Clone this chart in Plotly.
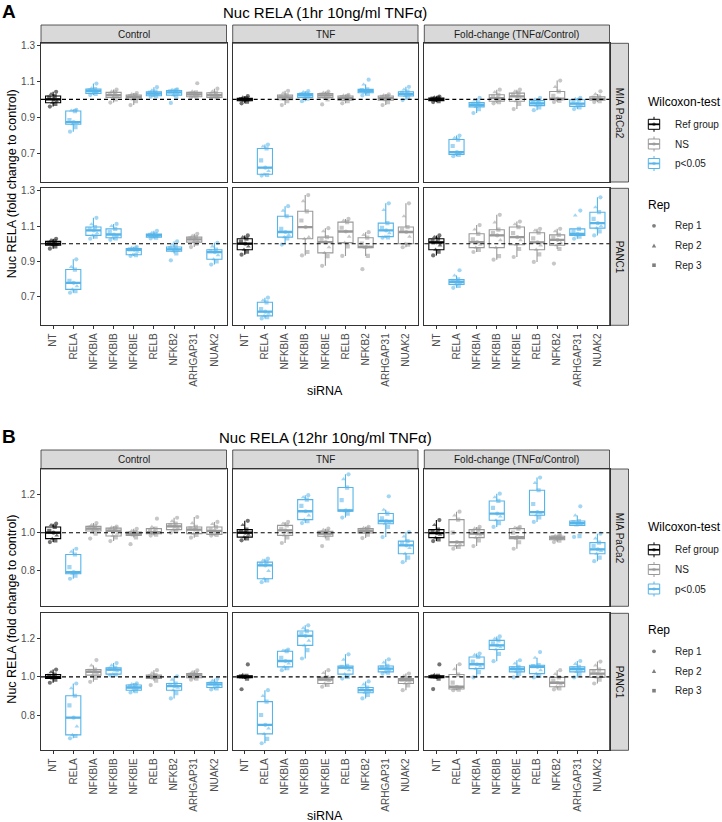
import numpy as np
import plotly.graph_objects as go

W, H = 722, 822

SIRNA = ["NT", "RELA", "NFKBIA", "NFKBIB", "NFKBIE", "RELB", "NFKB2", "ARHGAP31", "NUAK2"]
CONDITIONS = ["Control", "TNF", "Fold-change (TNFα/Control)"]
CELL_LINES = ["MIA PaCa2", "PANC1"]
TITLES = ["Nuc RELA (1hr 10ng/ml TNFα)", "Nuc RELA (12hr 10ng/ml TNFα)"]
LETTERS = ["A", "B"]
REPS = ["Rep 1", "Rep 2", "Rep 3"]

# significance per siRNA: R = Ref group, N = NS, S = p<0.05
# --- A: 1hr, MIA PaCa2 ---
A_MIA_CTRL = [
    [0.96, 0.975, 0.981, 0.99, 1.0, 1.01, 1.019, 1.03, 1.042],
    [0.82, 0.845, 0.861, 0.868, 0.873, 0.885, 0.935, 0.938, 0.942],
    [1.024, 1.03, 1.033, 1.04, 1.046, 1.05, 1.057, 1.062, 1.088],
    [0.982, 1.0, 1.011, 1.018, 1.024, 1.03, 1.039, 1.045, 1.055],
    [0.968, 0.99, 1.0, 1.008, 1.013, 1.018, 1.024, 1.03, 1.035],
    [1.015, 1.018, 1.02, 1.028, 1.033, 1.038, 1.043, 1.05, 1.068],
    [0.98, 1.015, 1.024, 1.032, 1.039, 1.045, 1.05, 1.053, 1.056],
    [1.01, 1.012, 1.015, 1.022, 1.028, 1.032, 1.039, 1.045, 1.09],
    [1.008, 1.01, 1.011, 1.018, 1.024, 1.03, 1.037, 1.045, 1.06],
]
A_MIA_CTRL_SIG = "RSSNNSSNN"
A_MIA_TNF = [
    [0.978, 0.988, 0.992, 0.996, 1.0, 1.002, 1.006, 1.012, 1.018],
    [0.575, 0.578, 0.582, 0.6, 0.619, 0.66, 0.726, 0.738, 0.748],
    [0.968, 0.99, 0.998, 1.005, 1.011, 1.016, 1.024, 1.035, 1.048],
    [0.99, 1.004, 1.011, 1.018, 1.024, 1.028, 1.033, 1.04, 1.046],
    [0.972, 1.0, 1.01, 1.017, 1.022, 1.027, 1.032, 1.038, 1.043],
    [0.978, 0.99, 0.996, 1.003, 1.008, 1.013, 1.019, 1.022, 1.025],
    [1.022, 1.03, 1.037, 1.043, 1.048, 1.052, 1.056, 1.083, 1.11],
    [0.968, 0.985, 0.996, 1.002, 1.009, 1.014, 1.019, 1.024, 1.028],
    [0.996, 1.012, 1.019, 1.025, 1.03, 1.036, 1.043, 1.055, 1.07],
]
A_MIA_TNF_SIG = "RSNSNNSNS"
A_MIA_FC = [
    [0.985, 0.99, 0.993, 0.998, 1.0, 1.004, 1.008, 1.012, 1.016],
    [0.683, 0.69, 0.693, 0.7, 0.706, 0.74, 0.776, 0.785, 0.798],
    [0.924, 0.945, 0.958, 0.965, 0.97, 0.975, 0.983, 0.995, 1.008],
    [0.978, 0.985, 0.99, 1.0, 1.007, 1.015, 1.026, 1.04, 1.054],
    [0.946, 0.975, 0.99, 1.005, 1.017, 1.025, 1.035, 1.045, 1.054],
    [0.94, 0.955, 0.965, 0.972, 0.978, 0.985, 0.993, 1.0, 1.008],
    [0.985, 0.992, 0.998, 1.0, 1.004, 1.02, 1.044, 1.07, 1.105],
    [0.946, 0.955, 0.961, 0.97, 0.976, 0.985, 0.998, 1.003, 1.008],
    [0.985, 0.99, 0.995, 1.0, 1.003, 1.01, 1.015, 1.03, 1.045],
]
A_MIA_FC_SIG = "RSSNNSNSN"

# --- A: 1hr, PANC1 ---
A_PANC_CTRL = [
    [0.972, 0.985, 0.991, 0.995, 1.0, 1.005, 1.013, 1.02, 1.028],
    [0.723, 0.732, 0.742, 0.76, 0.779, 0.79, 0.854, 0.869, 0.912],
    [1.028, 1.04, 1.047, 1.06, 1.075, 1.082, 1.094, 1.11, 1.146],
    [1.022, 1.03, 1.034, 1.045, 1.052, 1.065, 1.084, 1.1, 1.112],
    [0.931, 0.935, 0.938, 0.955, 0.965, 0.968, 0.972, 0.976, 0.981],
    [1.03, 1.034, 1.037, 1.043, 1.047, 1.05, 1.054, 1.062, 1.073],
    [0.906, 0.945, 0.957, 0.962, 0.968, 0.975, 0.981, 0.995, 1.013],
    [0.981, 1.0, 1.009, 1.015, 1.024, 1.03, 1.037, 1.045, 1.056],
    [0.882, 0.9, 0.912, 0.935, 0.952, 0.958, 0.966, 0.985, 1.005],
]
A_PANC_CTRL_SIG = "RSSSSSSNS"
A_PANC_TNF = [
    [0.938, 0.955, 0.966, 0.985, 1.0, 1.012, 1.028, 1.038, 1.047],
    [0.578, 0.585, 0.592, 0.605, 0.616, 0.63, 0.669, 0.68, 0.695],
    [0.995, 1.03, 1.037, 1.05, 1.066, 1.084, 1.155, 1.187, 1.212],
    [0.934, 0.953, 1.028, 1.037, 1.094, 1.131, 1.183, 1.24, 1.275],
    [0.875, 0.93, 0.948, 0.98, 1.009, 1.02, 1.037, 1.07, 1.088],
    [0.931, 0.985, 1.006, 1.04, 1.069, 1.09, 1.122, 1.13, 1.14],
    [0.856, 0.931, 0.978, 0.98, 0.982, 1.0, 1.034, 1.05, 1.065],
    [1.034, 1.036, 1.04, 1.06, 1.075, 1.09, 1.116, 1.19, 1.228],
    [0.98, 0.995, 1.0, 1.04, 1.066, 1.08, 1.094, 1.155, 1.228],
]
A_PANC_TNF_SIG = "RSSNNNNSN"
A_PANC_FC = [
    [0.934, 0.955, 0.966, 0.99, 1.008, 1.015, 1.028, 1.038, 1.047],
    [0.751, 0.762, 0.77, 0.778, 0.785, 0.79, 0.798, 0.82, 0.85],
    [0.953, 0.965, 0.978, 0.995, 1.009, 1.025, 1.056, 1.08, 1.105],
    [0.91, 0.93, 0.978, 1.02, 1.047, 1.06, 1.079, 1.12, 1.163],
    [0.925, 0.97, 0.994, 1.02, 1.037, 1.06, 1.094, 1.11, 1.125],
    [0.897, 0.94, 0.966, 0.99, 1.008, 1.03, 1.062, 1.075, 1.084],
    [0.888, 0.97, 0.991, 1.005, 1.022, 1.035, 1.05, 1.07, 1.084],
    [1.028, 1.04, 1.047, 1.052, 1.056, 1.07, 1.084, 1.16, 1.187],
    [1.047, 1.07, 1.088, 1.1, 1.116, 1.14, 1.178, 1.206, 1.262],
]
A_PANC_FC_SIG = "RSNNNNNSS"

# --- B: 12hr, MIA PaCa2 ---
B_MIA_CTRL = [
    [0.951, 0.96, 0.969, 0.985, 1.0, 1.01, 1.03, 1.04, 1.047],
    [0.759, 0.775, 0.785, 0.79, 0.794, 0.82, 0.886, 0.9, 0.916],
    [0.969, 0.995, 1.009, 1.015, 1.021, 1.027, 1.033, 1.04, 1.05],
    [0.956, 0.975, 0.983, 0.995, 1.01, 1.015, 1.024, 1.028, 1.032],
    [0.94, 0.975, 0.986, 0.99, 0.995, 0.998, 1.003, 1.01, 1.02],
    [0.985, 0.99, 0.995, 1.0, 1.003, 1.01, 1.021, 1.03, 1.073],
    [1.0, 1.01, 1.016, 1.025, 1.033, 1.04, 1.047, 1.06, 1.078],
    [0.974, 0.988, 0.995, 1.005, 1.016, 1.022, 1.03, 1.05, 1.082],
    [0.985, 0.988, 0.991, 1.0, 1.009, 1.018, 1.03, 1.045, 1.056],
]
B_MIA_CTRL_SIG = "RSNNNNNNN"
B_MIA_TNF = [
    [0.96, 0.97, 0.977, 0.99, 1.0, 1.008, 1.016, 1.04, 1.062],
    [0.741, 0.75, 0.759, 0.8, 0.829, 0.835, 0.846, 0.855, 0.864],
    [0.946, 0.975, 0.986, 1.0, 1.012, 1.02, 1.038, 1.048, 1.056],
    [1.05, 1.06, 1.068, 1.09, 1.112, 1.14, 1.173, 1.185, 1.196],
    [0.93, 0.97, 0.981, 0.99, 0.995, 1.0, 1.007, 1.015, 1.021],
    [1.079, 1.1, 1.112, 1.115, 1.117, 1.17, 1.236, 1.28, 1.305],
    [0.972, 0.99, 0.998, 1.005, 1.01, 1.015, 1.021, 1.025, 1.03],
    [0.977, 1.03, 1.047, 1.055, 1.061, 1.075, 1.1, 1.12, 1.19],
    [0.846, 0.87, 0.89, 0.92, 0.934, 0.945, 0.956, 0.98, 1.003],
]
B_MIA_TNF_SIG = "RSNSNSNSS"
B_MIA_FC = [
    [0.956, 0.965, 0.974, 0.99, 0.998, 1.005, 1.016, 1.04, 1.066],
    [0.916, 0.925, 0.932, 0.94, 0.951, 1.0, 1.068, 1.09, 1.11],
    [0.93, 0.96, 0.974, 0.985, 0.995, 1.005, 1.016, 1.022, 1.03],
    [1.03, 1.05, 1.065, 1.085, 1.1, 1.13, 1.166, 1.185, 1.204],
    [0.916, 0.95, 0.969, 0.973, 0.977, 1.0, 1.021, 1.026, 1.03],
    [1.056, 1.08, 1.091, 1.1, 1.108, 1.15, 1.222, 1.26, 1.288],
    [0.951, 0.958, 0.963, 0.968, 0.972, 0.976, 0.981, 0.984, 0.986],
    [0.978, 0.982, 1.038, 1.045, 1.05, 1.055, 1.061, 1.09, 1.138],
    [0.851, 0.87, 0.89, 0.905, 0.913, 0.93, 0.948, 0.97, 0.995],
]
B_MIA_FC_SIG = "RNNSNSNSS"

# --- B: 12hr, PANC1 ---
B_PANC_CTRL = [
    [0.969, 0.985, 0.991, 0.996, 1.0, 1.005, 1.012, 1.025, 1.038],
    [0.678, 0.69, 0.696, 0.74, 0.786, 0.85, 0.901, 0.94, 0.965],
    [0.974, 0.995, 1.009, 1.018, 1.026, 1.032, 1.038, 1.06, 1.088],
    [1.008, 1.011, 1.014, 1.03, 1.038, 1.042, 1.047, 1.06, 1.072],
    [0.918, 0.925, 0.93, 0.938, 0.944, 0.95, 0.957, 0.962, 0.966],
    [0.957, 0.98, 0.991, 0.995, 1.0, 1.003, 1.009, 1.02, 1.035],
    [0.887, 0.915, 0.93, 0.943, 0.951, 0.958, 0.965, 0.985, 1.003],
    [0.985, 0.99, 0.995, 1.002, 1.008, 1.012, 1.017, 1.025, 1.034],
    [0.934, 0.94, 0.944, 0.952, 0.96, 0.965, 0.97, 0.98, 0.99],
]
B_PANC_CTRL_SIG = "RSNSSNSNS"
B_PANC_TNF = [
    [0.935, 0.99, 0.995, 0.998, 1.0, 1.002, 1.005, 1.01, 1.065],
    [0.652, 0.675, 0.701, 0.73, 0.748, 0.8, 0.87, 0.9, 0.93],
    [1.035, 1.045, 1.052, 1.07, 1.083, 1.1, 1.134, 1.138, 1.143],
    [1.096, 1.14, 1.165, 1.19, 1.215, 1.225, 1.24, 1.255, 1.27],
    [0.948, 0.958, 0.965, 0.978, 0.986, 0.99, 0.997, 1.02, 1.035],
    [0.991, 1.0, 1.014, 1.035, 1.048, 1.052, 1.057, 1.09, 1.118],
    [0.887, 0.905, 0.917, 0.925, 0.93, 0.937, 0.944, 0.96, 0.976],
    [1.017, 1.022, 1.026, 1.036, 1.043, 1.05, 1.057, 1.075, 1.092],
    [0.93, 0.955, 0.965, 0.975, 0.983, 0.987, 0.991, 1.005, 1.017],
]
B_PANC_TNF_SIG = "RSSSNSSSN"
B_PANC_FC = [
    [0.936, 0.99, 0.995, 0.998, 1.0, 1.002, 1.005, 1.01, 1.065],
    [0.93, 0.933, 0.936, 0.942, 0.948, 0.97, 1.012, 1.04, 1.066],
    [0.997, 1.025, 1.043, 1.055, 1.066, 1.08, 1.104, 1.115, 1.122],
    [1.082, 1.12, 1.143, 1.155, 1.165, 1.175, 1.191, 1.2, 1.212],
    [0.997, 1.015, 1.026, 1.033, 1.04, 1.045, 1.052, 1.07, 1.087],
    [0.997, 1.005, 1.017, 1.035, 1.052, 1.056, 1.061, 1.1, 1.13],
    [0.934, 0.94, 0.948, 0.96, 0.969, 0.98, 0.997, 1.015, 1.035],
    [0.997, 1.015, 1.026, 1.033, 1.04, 1.045, 1.052, 1.068, 1.083],
    [0.965, 0.985, 0.997, 1.008, 1.017, 1.025, 1.038, 1.06, 1.08],
]
B_PANC_FC_SIG = "RNSSSSNSN"

PANELS = [
    [[A_MIA_CTRL, A_MIA_TNF, A_MIA_FC], [A_PANC_CTRL, A_PANC_TNF, A_PANC_FC]],
    [[B_MIA_CTRL, B_MIA_TNF, B_MIA_FC], [B_PANC_CTRL, B_PANC_TNF, B_PANC_FC]],
]
SIGS = [
    [[A_MIA_CTRL_SIG, A_MIA_TNF_SIG, A_MIA_FC_SIG], [A_PANC_CTRL_SIG, A_PANC_TNF_SIG, A_PANC_FC_SIG]],
    [[B_MIA_CTRL_SIG, B_MIA_TNF_SIG, B_MIA_FC_SIG], [B_PANC_CTRL_SIG, B_PANC_TNF_SIG, B_PANC_FC_SIG]],
]
Y_TICKS = [[0.7, 0.9, 1.1, 1.3], [0.8, 1.0, 1.2]]

# styling / geometry (pixels of the 722x822 page)
FONT = "Liberation Sans, Arial, sans-serif"
GROUPS = {
    "R": ("Ref group", "#000000", "rgba(0,0,0,0.55)"),
    "N": ("NS", "#999999", "rgba(153,153,153,0.55)"),
    "S": ("p<0.05", "#56B4E9", "rgba(86,180,233,0.55)"),
}
REP_SYMBOLS = ["circle", "triangle-up", "square"]
REP_OF_POINT = [0, 2, 1, 1, 0, 2, 2, 1, 0]
JITTER = [-0.16, 0.11, -0.04, 0.18, 0.02, -0.19, 0.08, -0.1, 0.15]
COL_X = [(41.0, 226.5), (232.7, 418.0), (424.3, 609.5)]
ROW_Y = [[(43.3, 182.0), (188.3, 325.3)], [(469.0, 606.3), (613.3, 750.3)]]
STRIP_TOP = [25.0, 450.0]
Y_RANGE = [(0.539, 1.313), (0.615, 1.333)]
LEG_SHIFT = [0.0, 425.5]


def fx(x):
    return x / W


def fy(y):
    return 1 - y / H


def box_stats(v):
    v = np.asarray(v)
    q1, med, q3 = np.percentile(v, [25, 50, 75])
    iqr = q3 - q1
    lo = v[v >= q1 - 1.5 * iqr].min()
    hi = v[v <= q3 + 1.5 * iqr].max()
    return q1, med, q3, lo, hi


def pline(x0, y0, x1, y1, color, width):
    return dict(type="line", xref="paper", yref="paper", x0=fx(x0), y0=fy(y0),
                x1=fx(x1), y1=fy(y1), line=dict(color=color, width=width))


def label(text, x, y, size, **kw):
    d = dict(text=text, x=fx(x), y=fy(y), xref="paper", yref="paper",
             xanchor="center", yanchor="middle",
             showarrow=False, font=dict(size=size, color=kw.pop("color", "black")))
    d.update(kw)
    return d


fig = go.Figure()
layout = {}
shapes = []
annotations = []

k = 0
for p in range(2):
    for r in range(2):
        for c in range(3):
            k += 1
            xid = "x" if k == 1 else f"x{k}"
            yid = "y" if k == 1 else f"y{k}"
            data = PANELS[p][r][c]
            sig = SIGS[p][r][c]

            for g in "RNS":
                idx = [i for i, s in enumerate(sig) if s == g]
                if not idx:
                    continue
                name, line_col, pt_col = GROUPS[g]
                st = [box_stats(data[i]) for i in idx]
                fig.add_trace(go.Box(
                    x=[i + 1 for i in idx],
                    q1=[s[0] for s in st], median=[s[1] for s in st], q3=[s[2] for s in st],
                    lowerfence=[s[3] for s in st], upperfence=[s[4] for s in st],
                    width=0.75, whiskerwidth=0, boxpoints=False,
                    line=dict(color=line_col, width=1.1), fillcolor="white",
                    name=name, showlegend=False,
                    xaxis=xid, yaxis=yid, hoverinfo="skip",
                ))
                mx, my = [], []
                for i, s in zip(idx, st):
                    mx += [i + 1 - 0.375, i + 1 + 0.375, None]
                    my += [s[1], s[1], None]
                fig.add_trace(go.Scatter(
                    x=mx, y=my, mode="lines", line=dict(color=line_col, width=2.3),
                    showlegend=False, xaxis=xid, yaxis=yid, hoverinfo="skip",
                ))

            px_, py_, cols, syms = [], [], [], []
            for i, vals in enumerate(data):
                for j, v in enumerate(vals):
                    px_.append(i + 1 + JITTER[j])
                    py_.append(v)
                    cols.append(GROUPS[sig[i]][2])
                    syms.append(REP_SYMBOLS[REP_OF_POINT[j]])
            fig.add_trace(go.Scatter(
                x=px_, y=py_, mode="markers",
                marker=dict(color=cols, symbol=syms, size=4.2, line=dict(width=0)),
                showlegend=False, xaxis=xid, yaxis=yid, hoverinfo="skip",
            ))

            x0, x1 = COL_X[c]
            y0, y1 = ROW_Y[p][r]
            bottom = r == 1
            left = c == 0
            layout["xaxis" if k == 1 else f"xaxis{k}"] = dict(
                domain=[fx(x0), fx(x1)], anchor=yid, range=[0.4, 9.6],
                showgrid=False, zeroline=False, showline=True, mirror=True,
                linecolor="#333333", linewidth=1,
                tickvals=list(range(1, 10)), ticktext=SIRNA,
                ticks="outside" if bottom else "", ticklen=3, tickcolor="#333333",
                showticklabels=bottom, tickangle=-90,
                tickfont=dict(size=10, color="#4D4D4D"),
            )
            layout["yaxis" if k == 1 else f"yaxis{k}"] = dict(
                domain=[fy(y1), fy(y0)], anchor=xid, range=list(Y_RANGE[p]),
                showgrid=False, zeroline=False, showline=True, mirror=True,
                linecolor="#333333", linewidth=1,
                tickvals=Y_TICKS[p], tickformat=".1f",
                ticks="outside" if left else "", ticklen=3, tickcolor="#333333",
                showticklabels=left, tickfont=dict(size=10, color="#4D4D4D"),
            )
            # reference line at 1
            shapes.append(dict(
                type="line", xref=f"{xid} domain", x0=0, x1=1, yref=yid, y0=1, y1=1,
                line=dict(color="black", width=1.1, dash="4px,3px"), layer="above",
            ))

            # facet strips
            if r == 0:
                st0 = STRIP_TOP[p]
                shapes.append(dict(
                    type="rect", xref="paper", yref="paper",
                    x0=fx(x0), x1=fx(x1), y0=fy(y0), y1=fy(st0),
                    fillcolor="#D9D9D9", line=dict(color="#333333", width=0.8), layer="below",
                ))
                annotations.append(label(CONDITIONS[c], (x0 + x1) / 2, (st0 + y0) / 2, 10,
                                         color="#1A1A1A"))
            if c == 2:
                shapes.append(dict(
                    type="rect", xref="paper", yref="paper",
                    x0=fx(x1), x1=fx(x1 + 19), y0=fy(y1), y1=fy(y0),
                    fillcolor="#D9D9D9", line=dict(color="#333333", width=0.8), layer="below",
                ))
                annotations.append(label(CELL_LINES[r], x1 + 9.5, (y0 + y1) / 2, 10,
                                         color="#1A1A1A", textangle=90))

    top = STRIP_TOP[p]
    annotations.append(label(f"<b>{LETTERS[p]}</b>", 9, top - 13, 19))
    annotations.append(label(TITLES[p], 325, top - 12.5, 15))
    ymid = (ROW_Y[p][0][0] + ROW_Y[p][1][1]) / 2
    annotations.append(label("Nuc RELA (fold change to control)", 12, ymid, 12.5, textangle=-90))
    annotations.append(label("siRNA", 325, ROW_Y[p][1][1] + 66, 12.5))

    # legends (drawn as keys + text to match ggplot's guide layout)
    dy = LEG_SHIFT[p]
    annotations.append(label("Wilcoxon-test", 646, 101.7 + dy, 12, xanchor="left"))
    for g, yy in zip("RNS", [124.3, 144.0, 163.5]):
        name, line_col, pt_col = GROUPS[g]
        cy = yy + dy
        shapes.append(pline(654, cy - 7.5, 654, cy + 7.5, line_col, 1))
        shapes.append(dict(type="rect", xref="paper", yref="paper",
                           x0=fx(648.3), x1=fx(659.7), y0=fy(cy + 5), y1=fy(cy - 5),
                           fillcolor="white", line=dict(color=line_col, width=1)))
        shapes.append(pline(648.3, cy, 659.7, cy, line_col, 1.8))
        shapes.append(dict(type="circle", xref="paper", yref="paper",
                           x0=fx(652.2), x1=fx(655.8), y0=fy(cy + 1.8), y1=fy(cy - 1.8),
                           fillcolor=pt_col, line=dict(width=0)))
        annotations.append(label(name, 673, cy, 10, color="#1A1A1A", xanchor="left"))

    annotations.append(label("Rep", 646, 204.8 + dy, 12, xanchor="left"))
    for j, yy in enumerate([225.8, 245.6, 265.2]):
        cy = yy + dy
        key = dict(xref="paper", yref="paper", fillcolor="rgba(0,0,0,0.5)", line=dict(width=0))
        if j == 0:
            key.update(type="circle", x0=fx(652.1), x1=fx(655.9), y0=fy(cy + 1.9), y1=fy(cy - 1.9))
        elif j == 1:
            key.update(type="path", path=(f"M{fx(651.8)},{fy(cy + 1.8)} L{fx(656.2)},{fy(cy + 1.8)} "
                                          f"L{fx(654)},{fy(cy - 2.2)} Z"))
        else:
            key.update(type="rect", x0=fx(652.2), x1=fx(655.8), y0=fy(cy + 1.8), y1=fy(cy - 1.8))
        shapes.append(key)
        annotations.append(label(REPS[j], 673, cy, 10, color="#1A1A1A", xanchor="left"))

fig.update_layout(
    width=W, height=H,
    margin=dict(l=0, r=0, t=0, b=0, autoexpand=False),
    paper_bgcolor="white", plot_bgcolor="white",
    font=dict(family=FONT, color="#1A1A1A"),
    hovermode=False, showlegend=False, boxmode="overlay",
    shapes=shapes, annotations=annotations,
    **layout,
)

# page body margin would otherwise push the 722x822 figure off the window
fig.write_html(
    "out.html",
    config={"displayModeBar": False, "staticPlot": True},
    post_script="document.body.style.margin='0px';document.documentElement.style.overflow='hidden';",
)
